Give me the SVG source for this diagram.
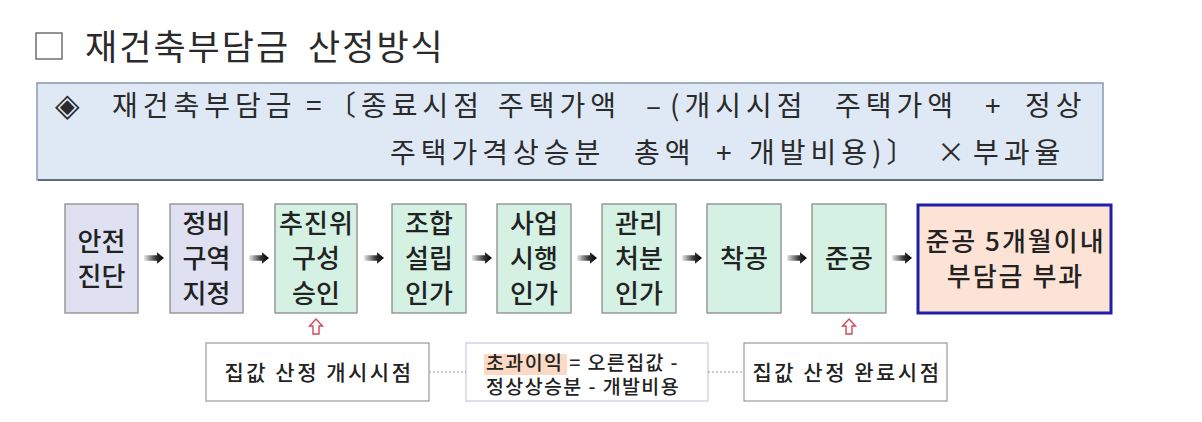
<svg xmlns="http://www.w3.org/2000/svg" width="1202" height="422" viewBox="0 0 1202 422">
<defs>
<style>
text{font-family:"Noto Sans CJK KR","Noto Sans",sans-serif;fill:#222;}
.title{font-size:35px;letter-spacing:2px;fill:#2a2a2a;}
.f{font-size:28px;letter-spacing:5px;fill:#2a2a2a;}
.bx{stroke:#8c8c8c;stroke-width:1.3;}
.lav{fill:#dfe1f3;}
.mint{fill:#d4f1e3;}
.t{font-size:26px;text-anchor:middle;font-weight:500;}
.w{letter-spacing:1px;}
.s{font-size:21px;text-anchor:middle;letter-spacing:2.5px;font-weight:500;}
.s2{font-size:19.5px;letter-spacing:1.4px;font-weight:500;}
.dash{stroke:#999;stroke-width:1;stroke-dasharray:2 2;fill:none;}
.up{fill:#fff;stroke:#d04a58;stroke-width:1.4;}
</style>
<linearGradient id="ag" x1="0" y1="0" x2="1" y2="0">
<stop offset="0" stop-color="#e8e8e8"/>
<stop offset="0.6" stop-color="#333"/>
<stop offset="1" stop-color="#000"/>
</linearGradient>
<path id="ar" d="M0,-2.8 H13 V-5.8 L20,0 L13,5.8 V2.8 H0 Z" fill="url(#ag)"/>
<path id="upa" d="M0,0 L6.5,7 H3 V15 H-3 V7 H-6.5 Z" class="up"/>
</defs>
<rect width="1202" height="422" fill="#fff"/>

<g id="title">
<rect x="36" y="33" width="26" height="26" fill="#fff" stroke="#666" stroke-width="1.4"/>
<text class="title" x="85" y="60">재건축부담금</text>
<text class="title" x="308" y="60">산정방식</text>
</g>

<g id="formula">
<rect x="37" y="83" width="1066" height="97" fill="#dfe9f6" stroke="#7f93a8" stroke-width="1.4"/>
<line x1="38" y1="180" x2="1103" y2="180" stroke="#5e7080" stroke-width="2"/>
<text class="f" y="116"><tspan x="55" style="font-size:32px">◈</tspan><tspan x="112">재건축부담금</tspan><tspan x="306">=</tspan><tspan x="328">〔종료시점</tspan><tspan x="498">주택가액</tspan><tspan x="646">–</tspan><tspan x="670">(개시시점</tspan><tspan x="835">주택가액</tspan><tspan x="985">+</tspan><tspan x="1025">정상</tspan></text>
<text class="f" y="163"><tspan x="390">주택가격상승분</tspan><tspan x="634">총액</tspan><tspan x="716">+</tspan><tspan x="749">개발비용)〕</tspan><tspan x="937">×</tspan><tspan x="973">부과율</tspan></text>
</g>

<g id="n1"><rect class="bx lav" x="65" y="204" width="73" height="109"/><text class="t" x="101.5" y="251">안전</text><text class="t" x="101.5" y="286">진단</text></g>
<g id="n2"><rect class="bx lav" x="170" y="204" width="73" height="109"/><text class="t" x="206.5" y="233">정비</text><text class="t" x="206.5" y="268">구역</text><text class="t" x="206.5" y="303">지정</text></g>
<g id="n3"><rect class="bx mint" x="275" y="204" width="82" height="109"/><text class="t w" x="316.5" y="233">추진위</text><text class="t" x="316" y="268">구성</text><text class="t" x="316" y="303">승인</text></g>
<g id="n4"><rect class="bx mint" x="392" y="204" width="74" height="109"/><text class="t" x="429" y="233">조합</text><text class="t" x="429" y="268">설립</text><text class="t" x="429" y="303">인가</text></g>
<g id="n5"><rect class="bx mint" x="497" y="204" width="74" height="109"/><text class="t" x="534" y="233">사업</text><text class="t" x="534" y="268">시행</text><text class="t" x="534" y="303">인가</text></g>
<g id="n6"><rect class="bx mint" x="602" y="204" width="74" height="109"/><text class="t" x="639" y="233">관리</text><text class="t" x="639" y="268">처분</text><text class="t" x="639" y="303">인가</text></g>
<g id="n7"><rect class="bx mint" x="707" y="204" width="74" height="109"/><text class="t" x="744" y="268">착공</text></g>
<g id="n8"><rect class="bx mint" x="812" y="204" width="74" height="109"/><text class="t" x="849" y="268">준공</text></g>
<g id="n9"><rect x="918" y="205" width="193" height="108" fill="#fde3d6" stroke="#1f1fa8" stroke-width="3"/><text class="t" style="letter-spacing:2px" x="1015.5" y="251">준공 5개월이내</text><text class="t" style="letter-spacing:2px" x="1015.5" y="286">부담금 부과</text></g>

<g id="nA"><rect x="206" y="343" width="223" height="58" fill="#fff" stroke="#999" stroke-width="1.2"/><text class="s" x="319" y="380">집값 산정 개시시점</text></g>
<g id="nB"><rect x="466" y="343" width="242" height="58" fill="#fff" stroke="#c8c8e4" stroke-width="1.2"/>
<rect x="484" y="354" width="83" height="21" fill="#fcd9c4"/>
<text class="s2" x="486" y="370">초과이익 = 오른집값 -</text><text class="s2" x="486" y="394">정상상승분 - 개발비용</text></g>
<g id="nC"><rect x="744" y="343" width="203" height="58" fill="#fff" stroke="#999" stroke-width="1.2"/><text class="s" x="847" y="380">집값 산정 완료시점</text></g>

<g id="connectors">
<use href="#ar" x="144" y="258"/>
<use href="#ar" x="249" y="258"/>
<use href="#ar" x="364" y="258"/>
<use href="#ar" x="472" y="258"/>
<use href="#ar" x="577" y="258"/>
<use href="#ar" x="682" y="258"/>
<use href="#ar" x="787" y="258"/>
<use href="#ar" x="892" y="258"/>
<use href="#upa" x="316" y="319"/>
<use href="#upa" x="849" y="319"/>
<line class="dash" x1="429" y1="372" x2="466" y2="372"/>
<line class="dash" x1="708" y1="372" x2="744" y2="372"/>
</g>
</svg>
